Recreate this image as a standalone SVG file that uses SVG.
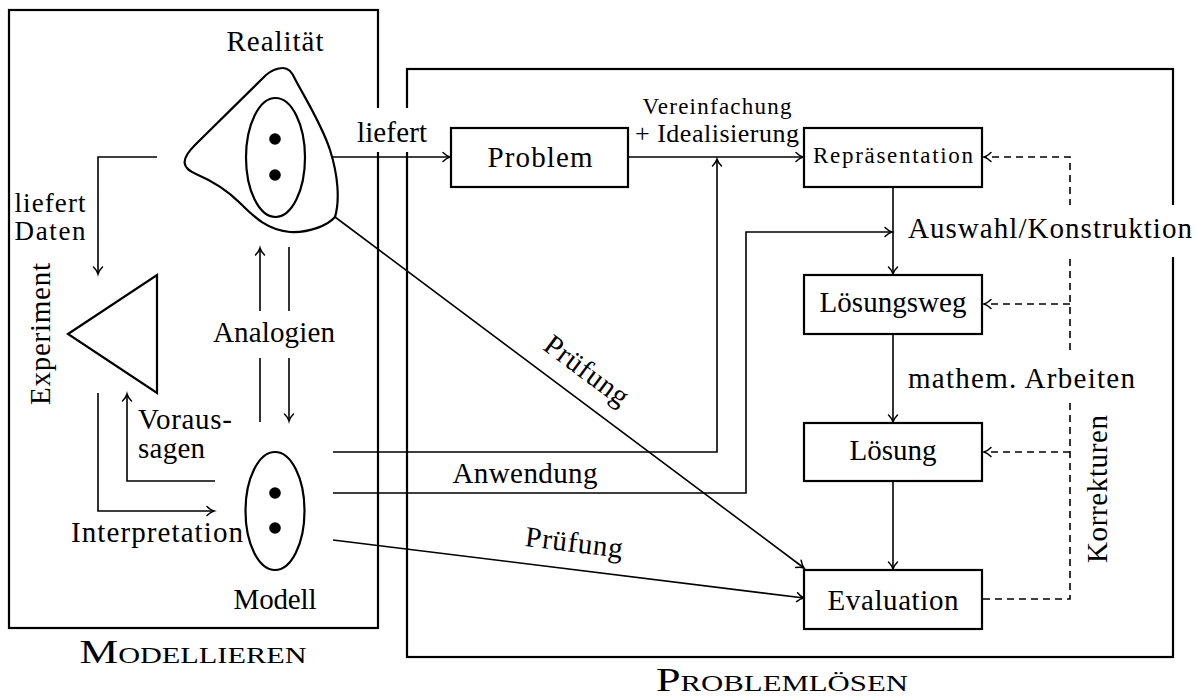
<svg xmlns="http://www.w3.org/2000/svg" width="1198" height="699" viewBox="0 0 1198 699" font-family="'Liberation Serif', 'DejaVu Serif', serif">
<defs>
<marker id="ah" markerWidth="10" markerHeight="10" refX="0" refY="0" orient="auto" markerUnits="userSpaceOnUse" overflow="visible">
<path d="M-7,-4.5 C-4.5,-2 -1.5,-0.4 0,0 C-1.5,0.4 -4.5,2 -7,4.5" fill="none" stroke="#000" stroke-width="1.5" stroke-linecap="round" stroke-dasharray="none"/>
</marker>
<style>
text{font-family:'Liberation Serif','DejaVu Serif',serif;font-size:29px;fill:#000}
.box{fill:#fff;stroke:#000;stroke-width:2.2}
.frame{fill:none;stroke:#000;stroke-width:2.2}
.ln{fill:none;stroke:#000;stroke-width:1.6}
.arr{marker-end:url(#ah)}
.dash{stroke-dasharray:7 5}
.sm{font-size:23px}
.two{font-size:27px}
.title{font-size:33px;font-variant:small-caps}
.mid{text-anchor:middle}
.bg{fill:#fff;stroke:none}
.dot{fill:#000}
</style>
</defs>
<rect width="1198" height="699" fill="#fff"/>

<g id="frames">
<rect class="frame" x="9" y="10" width="369" height="618"/>
<rect class="frame" x="407" y="69" width="766" height="588"/>
</g>

<g id="connectors">
<path class="ln arr" d="M333,157 H450"/>
<path class="ln arr" d="M628,157 H803"/>
<path class="ln arr" d="M157,157 H98 V274"/>
<path class="ln arr" d="M98,393 V511 H214"/>
<path class="ln arr" d="M215,481 H127 V394"/>
<path class="ln arr" d="M260,422 V248"/>
<path class="ln arr" d="M289,247 V421"/>
<path class="ln arr" d="M333,452 H717 V159"/>
<path class="ln arr" d="M333,493 H746 V232 H892"/>
<path class="ln arr" d="M333,540 L804,598"/>
<path class="ln arr" d="M335,217 L804,568"/>
<path class="ln arr" d="M893,187 V274"/>
<path class="ln arr" d="M893,334 V422"/>
<path class="ln arr" d="M893,481 V569"/>
<path class="ln dash arr" d="M983,599 H1070 V157 H984"/>
<path class="ln dash arr" d="M1070,304 H984"/>
<path class="ln dash arr" d="M1070,452 H984"/>
</g>

<g id="label-backgrounds">
<rect class="bg" x="352" y="108" width="80" height="44"/>
<rect class="bg" x="205" y="311" width="135" height="47"/>
<rect class="bg" x="903" y="205" width="292" height="52"/>
<rect class="bg" x="903" y="353" width="240" height="45"/>
</g>

<g id="realitaet">
<path class="box" stroke-width="2" d="M283,68 C277,68 272,70 266,75 L195,145 C180,160 182,168 196,174 C210,180 225,188 240,203 C255,218 268,230 290,232 C310,233 328,225 335,217 C340,200 338,175 330,150 C322,125 305,98 295,79 C292,72 288,68 283,68 Z"/>
<ellipse class="box" stroke-width="2" cx="275.5" cy="157.5" rx="29.5" ry="59.5"/>
<circle class="dot" cx="275" cy="139" r="5.8"/>
<circle class="dot" cx="275" cy="175" r="5.8"/>
<text class="mid" x="275" y="51" textLength="97">Realität</text>
</g>

<g id="experiment">
<polygon class="box" stroke-width="2" points="68,334 157,275 157,393"/>
<text class="mid" transform="translate(50,334) rotate(-90)" textLength="142">Experiment</text>
</g>

<g id="modell">
<ellipse class="box" stroke-width="2" cx="275" cy="511" rx="29.5" ry="59"/>
<circle class="dot" cx="275" cy="493" r="5.8"/>
<circle class="dot" cx="275" cy="528" r="5.8"/>
<text class="mid" x="275" y="609" textLength="83">Modell</text>
</g>

<g id="problem">
<rect class="box" x="451" y="128" width="177" height="59"/>
<text class="mid" x="540" y="167" textLength="105">Problem</text>
</g>

<g id="repraesentation">
<rect class="box" x="804" y="128" width="178" height="59"/>
<text class="mid sm" x="893" y="163" textLength="160">Repräsentation</text>
</g>

<g id="loesungsweg">
<rect class="box" x="804" y="275" width="178" height="59"/>
<text class="mid" x="893" y="312" textLength="147">Lösungsweg</text>
</g>

<g id="loesung">
<rect class="box" x="804" y="423" width="178" height="58"/>
<text class="mid" x="893" y="460" textLength="87">Lösung</text>
</g>

<g id="evaluation">
<rect class="box" x="804" y="570" width="178" height="59"/>
<text class="mid" x="893" y="610" textLength="131">Evaluation</text>
</g>

<g id="labels">
<text class="mid" x="392" y="142" textLength="70">liefert</text>
<text class="mid"><tspan class="sm" x="717" y="114" textLength="149">Vereinfachung</tspan><tspan x="717" y="142" font-size="26" textLength="164">+ Idealisierung</tspan></text>
<text class="mid two"><tspan x="50" y="212" textLength="71">liefert</tspan><tspan x="50" y="240" textLength="71">Daten</tspan></text>
<text font-size="26"><tspan x="138" y="429" textLength="94">Voraus-</tspan><tspan x="138" y="458" textLength="67">sagen</tspan></text>
<text x="71" y="542" textLength="172">Interpretation</text>
<text class="mid" x="274" y="342" textLength="122">Analogien</text>
<text class="mid" x="525" y="483" textLength="145">Anwendung</text>
<text class="mid" transform="translate(581,378) rotate(36.7)" textLength="98">Prüfung</text>
<text class="mid" transform="translate(573,552) rotate(7)" textLength="98">Prüfung</text>
<text x="908" y="238" textLength="284">Auswahl/Konstruktion</text>
<text x="908" y="388" textLength="227">mathem. Arbeiten</text>
<text class="mid" transform="translate(1107,489) rotate(-90)" textLength="148">Korrekturen</text>
<text class="mid title" x="193" y="663" textLength="227" lengthAdjust="spacingAndGlyphs">Modellieren</text>
<text class="mid title" x="782" y="691" textLength="252" lengthAdjust="spacingAndGlyphs">Problemlösen</text>
</g>
</svg>
